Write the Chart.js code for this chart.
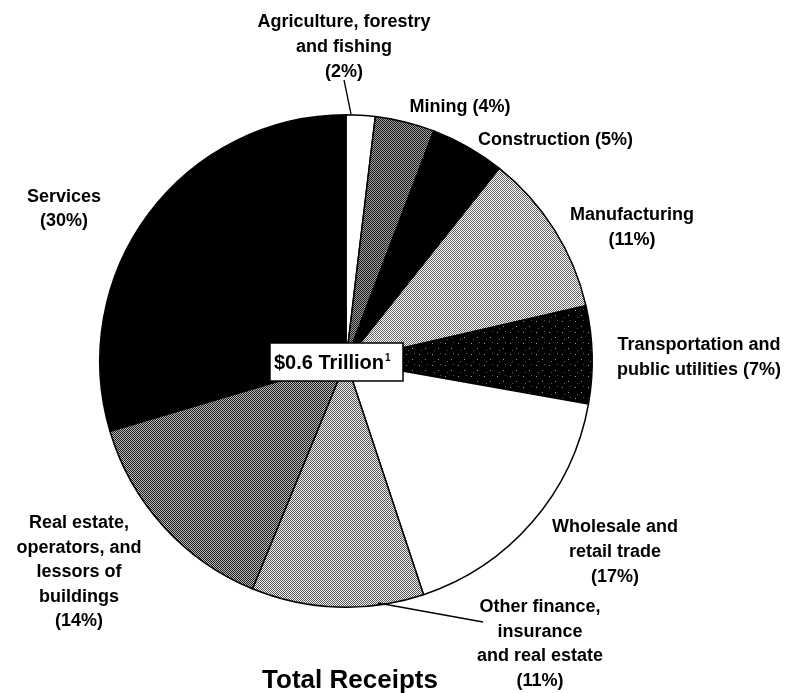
<!DOCTYPE html>
<html>
<head>
<meta charset="utf-8">
<script src="https://cdn.jsdelivr.net/npm/chart.js@4"></script>
<style>
  html, body { margin: 0; padding: 0; background: #ffffff; }
  #wrap { width: 789px; height: 693px; position: relative; }
</style>
</head>
<body>
<div id="wrap"><canvas id="c" width="789" height="693"></canvas></div>
<script>
// ---- data (shares of total receipts) ----
const categories = [
  "Agriculture, forestry and fishing",
  "Mining",
  "Construction",
  "Manufacturing",
  "Transportation and public utilities",
  "Wholesale and retail trade",
  "Other finance, insurance and real estate",
  "Real estate, operators, and lessors of buildings",
  "Services"
];
const shares = [1.9, 3.9, 4.9, 10.7, 6.4, 17.1, 11.3, 14.2, 29.6];
const labelPercents = ["2%", "4%", "5%", "11%", "7%", "17%", "11%", "14%", "30%"];
const centerText = "$0.6 Trillion";
const chartTitle = "Total Receipts";

// ---- halftone-like fills ----
function tile(w, h, draw) {
  const c = document.createElement('canvas');
  c.width = w; c.height = h;
  const g = c.getContext('2d');
  draw(g);
  return g.createPattern(c, 'repeat');
}
function checker(dark, light) {
  return tile(2, 2, g => {
    g.fillStyle = light; g.fillRect(0, 0, 2, 2);
    g.fillStyle = dark; g.fillRect(0, 0, 1, 1); g.fillRect(1, 1, 1, 1);
  });
}
const speckled = tile(13, 11, g => {
  g.fillStyle = '#000'; g.fillRect(0, 0, 13, 11);
  g.fillStyle = '#9a9a9a'; g.fillRect(3, 2, 1, 1); g.fillRect(9, 7, 1, 1);
  g.fillStyle = '#555'; g.fillRect(11, 1, 1, 1); g.fillRect(5, 9, 1, 1);
});
const fills = [
  '#ffffff',
  checker('#1a1a1a', '#a0a0a0'),
  '#000000',
  checker('#666666', '#ffffff'),
  speckled,
  '#ffffff',
  checker('#555555', '#f4f4f4'),
  checker('#1e1e1e', '#b8b8b8'),
  '#000000'
];

// ---- annotation text (positions for the hand-placed labels) ----
const FONT = '"Liberation Sans", Arial, sans-serif';
const textBlocks = [
  { lines: ["Agriculture, forestry", "and fishing", "(" + labelPercents[0] + ")"], x: 344, y: 27, align: 'center' },
  { lines: ["Mining (" + labelPercents[1] + ")"], x: 460, y: 112, align: 'center' },
  { lines: ["Construction (" + labelPercents[2] + ")"], x: 478, y: 145, align: 'left' },
  { lines: ["Manufacturing", "(" + labelPercents[3] + ")"], x: 632, y: 220, align: 'center' },
  { lines: ["Transportation and", "public utilities (" + labelPercents[4] + ")"], x: 699, y: 350, align: 'center' },
  { lines: ["Wholesale and", "retail trade", "(" + labelPercents[5] + ")"], x: 615, y: 532, align: 'center' },
  { lines: ["Other finance,", "insurance", "and real estate", "(" + labelPercents[6] + ")"], x: 540, y: 612, align: 'center', step: 24.5 },
  { lines: ["Real estate,", "operators, and", "lessors of", "buildings", "(" + labelPercents[7] + ")"], x: 79, y: 528, align: 'center', step: 24.5 },
  { lines: ["Services", "(" + labelPercents[8] + ")"], x: 64, y: 202, align: 'center', step: 24 }
];

const annotate = {
  id: 'annotate',
  afterDraw(chart) {
    const ctx = chart.ctx;
    ctx.save();
    ctx.fillStyle = '#000';
    ctx.textBaseline = 'alphabetic';
    ctx.font = 'bold 18px ' + FONT;
    textBlocks.forEach(b => {
      ctx.textAlign = b.align;
      const step = b.step || 25;
      b.lines.forEach((t, i) => ctx.fillText(t, b.x, b.y + i * step));
    });
    // leader lines
    ctx.strokeStyle = '#000';
    ctx.lineWidth = 1.3;
    ctx.beginPath();
    ctx.moveTo(344, 80); ctx.lineTo(351, 114);
    ctx.moveTo(378, 603); ctx.lineTo(483, 622);
    ctx.stroke();
    // centre box
    ctx.fillStyle = '#fff';
    ctx.fillRect(270, 343, 133, 38);
    ctx.lineWidth = 1.5;
    ctx.strokeRect(270, 343, 133, 38);
    ctx.fillStyle = '#000';
    ctx.textAlign = 'left';
    ctx.font = 'bold 20px ' + FONT;
    ctx.fillText(centerText, 274, 369);
    const w = ctx.measureText(centerText).width;
    ctx.font = 'bold 10px ' + FONT;
    ctx.fillText('1', 274 + w + 1, 361);
    // title
    ctx.textAlign = 'center';
    ctx.font = 'bold 26px ' + FONT;
    ctx.fillText(chartTitle, 350, 688);
    ctx.restore();
  }
};

new Chart(document.getElementById('c'), {
  type: 'pie',
  data: {
    labels: categories,
    datasets: [{
      data: shares,
      backgroundColor: fills,
      borderColor: '#000000',
      borderWidth: 1.5
    }]
  },
  options: {
    responsive: false,
    animation: false,
    layout: { padding: { left: 99, top: 114, right: 196, bottom: 85 } },
    plugins: {
      legend: { display: false },
      tooltip: { enabled: false },
      title: { display: false }
    }
  },
  plugins: [annotate]
});
</script>
</body>
</html>
